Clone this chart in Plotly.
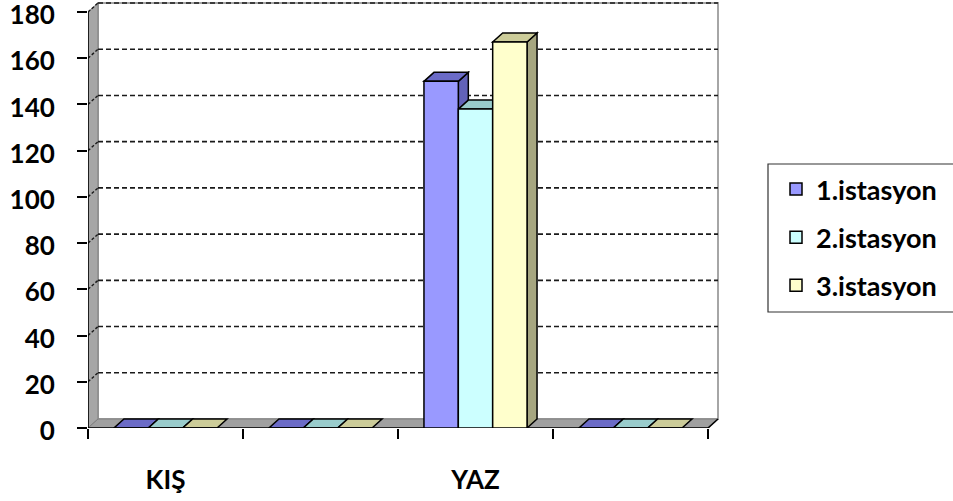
import plotly.graph_objects as go

# ---- data -------------------------------------------------------------
CATEGORIES = ["KIŞ", "", "YAZ", ""]
SERIES_NAMES = ["1.istasyon", "2.istasyon", "3.istasyon"]
ISTASYON_1 = [0, 0, 150, 0]
ISTASYON_2 = [0, 0, 138, 0]
ISTASYON_3 = [0, 0, 167, 0]
Y_TICKS = [0, 20, 40, 60, 80, 100, 120, 140, 160, 180]

# ---- styling ----------------------------------------------------------
FRONT_COLORS = ["#9999FF", "#CCFFFF", "#FFFFCC"]
TOP_COLORS = ["#6B6BC7", "#99CCCC", "#CCCC99"]
SIDE_COLORS = ["#6262B8", "#86B3B3", "#A6A680"]
FONT = "Lato"

W, H = 953, 501
PLOT_L, PLOT_R, PLOT_T, PLOT_B = 88, 720, 2, 428
CAT_PX = 155.0          # width of one category slot on the front plane
VAL_PX = 416.0 / 180    # pixels per value unit
DEPTH_PX = (10, 9)      # oblique depth offset (right, up)
BARGAP = 0.335

x_lo = 0.5
x_hi = x_lo + (PLOT_R - PLOT_L) / CAT_PX
y_hi = (PLOT_B - PLOT_T) / VAL_PX
DX = DEPTH_PX[0] / CAT_PX
DY = DEPTH_PX[1] / VAL_PX
n_cat = len(CATEGORIES)
x_end = x_lo + n_cat
y_top = Y_TICKS[-1]
positions = [i + 1 for i in range(n_cat)]
series = [ISTASYON_1, ISTASYON_2, ISTASYON_3]
bar_w = (1 - BARGAP) / len(series)

shapes = []


def px_to_paper_x(px):
    return (px - PLOT_L) / (PLOT_R - PLOT_L)


def px_to_paper_y(py):
    return (PLOT_B - py) / (PLOT_B - PLOT_T)


def poly(pts, fill, line_color, width=1.0, dash="solid", layer="below"):
    path = "M " + " L ".join(f"{x:.5f},{y:.5f}" for x, y in pts) + " Z"
    shapes.append(dict(type="path", xref="x", yref="y", path=path,
                       fillcolor=fill, layer=layer,
                       line=dict(color=line_color, width=width, dash=dash)))


def seg(x0, y0, x1, y1, color, width=1.0, dash="solid", layer="below"):
    shapes.append(dict(type="line", xref="x", yref="y", x0=x0, y0=y0,
                       x1=x1, y1=y1, layer=layer,
                       line=dict(color=color, width=width, dash=dash)))


# back wall
poly([(x_lo + DX, DY), (x_end + DX, DY), (x_end + DX, y_top + DY),
      (x_lo + DX, y_top + DY)], "white", "#A6A6A6", 2)
# left wall
poly([(x_lo, 0), (x_lo, y_top), (x_lo + DX, y_top + DY), (x_lo + DX, DY)],
     "#A6A6A6", "#7F7F7F", 1)
# floor
poly([(x_lo, 0), (x_end, 0), (x_end + DX, DY), (x_lo + DX, DY)],
     "#A0A0A0", "#7F7F7F", 1)

# dashed gridlines on the back wall and the left wall
for v in Y_TICKS[1:]:
    seg(x_lo + DX, v + DY, x_end + DX, v + DY, "#1A1A1A", 1.6, "5px,3px")
    seg(x_lo, v, x_lo + DX, v + DY, "#1A1A1A", 1.4, "3px,2px")

# front edges of the box
seg(x_lo, 0, x_end, 0, "black", 1.6)
seg(x_lo, 0, x_lo, y_top, "black", 1.6)
seg(x_end, 0, x_end + DX, DY, "black", 1.6)

# top and side faces of every column
for c, pos in enumerate(positions):
    for s, vals in enumerate(series):
        v = vals[c]
        x0 = pos + (s - (len(series) - 1) / 2) * bar_w - bar_w / 2
        x1 = x0 + bar_w
        if v > 0:
            poly([(x1, 0), (x1, v), (x1 + DX, v + DY), (x1 + DX, DY)],
                 SIDE_COLORS[s], "black", 1.5)
        poly([(x0, v), (x1, v), (x1 + DX, v + DY), (x0 + DX, v + DY)],
             TOP_COLORS[s], "black", 1.5)

# legend frame (open on the right, running past the page edge)
shapes.append(dict(type="rect", xref="paper", yref="paper",
                   x0=px_to_paper_x(768), x1=px_to_paper_x(W + 20),
                   y0=px_to_paper_y(312), y1=px_to_paper_y(164),
                   line=dict(color="#333333", width=1.2), layer="above"))

fig = go.Figure()
for s, vals in enumerate(series):
    fig.add_trace(go.Bar(
        x=positions, y=vals, name=SERIES_NAMES[s],
        legendgroup=SERIES_NAMES[s],
        marker=dict(color=FRONT_COLORS[s], line=dict(color="black", width=1.5)),
    ))

fig.update_layout(
    width=W, height=H,
    margin=dict(l=PLOT_L, r=W - PLOT_R, t=PLOT_T, b=H - PLOT_B,
                autoexpand=False),
    paper_bgcolor="white", plot_bgcolor="white",
    barmode="group", bargap=BARGAP, bargroupgap=0,
    shapes=shapes,
    font=dict(family=FONT, color="black", size=24, weight="bold"),
    legend=dict(
        xref="container", yref="container",
        x=776 / W, y=1 - 165 / H, xanchor="left", yanchor="top",
        bgcolor="rgba(0,0,0,0)", borderwidth=0,
        font=dict(family=FONT, size=27, color="black", weight="bold"),
        traceorder="grouped", tracegroupgap=10, itemwidth=30,
    ),
    xaxis=dict(
        range=[x_lo, x_hi], showgrid=False, zeroline=False, showline=False,
        automargin=False,
        tickmode="array", tickvals=positions, ticktext=CATEGORIES,
        ticks="", ticklabelstandoff=34,
        tickfont=dict(family=FONT, size=26, color="black", weight="bold"),
        minor=dict(tickmode="array",
                   tickvals=[x_lo + i for i in range(n_cat + 1)],
                   ticks="outside", ticklen=10, tickwidth=1.5,
                   tickcolor="black"),
        fixedrange=True,
    ),
    yaxis=dict(
        range=[0, y_hi], showgrid=False, zeroline=False, showline=False,
        automargin=False,
        tickmode="array", tickvals=Y_TICKS,
        ticks="outside", ticklen=10, tickwidth=1.5, tickcolor="black",
        ticklabelstandoff=17, ticklabelshift=3, ticklabeloverflow="allow",
        tickfont=dict(family=FONT, size=26, color="black", weight="bold"),
        fixedrange=True,
    ),
)

fig.write_html("out.html")
